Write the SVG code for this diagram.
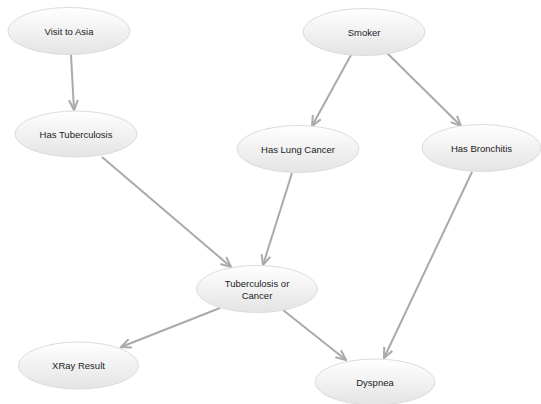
<svg xmlns="http://www.w3.org/2000/svg" width="541" height="404" viewBox="0 0 541 404">
<defs>
<linearGradient id="g" x1="0" y1="0" x2="0" y2="1">
<stop offset="0" stop-color="#ffffff"/>
<stop offset="1" stop-color="#e4e4e4"/>
</linearGradient>
<marker id="arr" viewBox="0 0 12 12" refX="11" refY="6" markerWidth="12" markerHeight="12" markerUnits="userSpaceOnUse" orient="auto">
<path d="M1,1.5 L11,6 L1,10.5" fill="none" stroke="#aaaaaa" stroke-width="2"/>
</marker>
</defs>
<style>
ellipse{fill:url(#g);stroke:#dcdcdc;stroke-width:1}
text{font-family:"Liberation Sans",Arial,sans-serif;font-size:9.5px;fill:#222;text-anchor:middle}
.e{stroke:#aaaaaa;stroke-width:2;fill:none;marker-end:url(#arr)}
</style>
<rect width="541" height="404" fill="#ffffff"/>
<g id="edges">
<line class="e" x1="71" y1="55" x2="74" y2="110"/>
<line class="e" x1="102" y1="157" x2="231" y2="267"/>
<line class="e" x1="292" y1="173" x2="263" y2="265"/>
<line class="e" x1="351" y1="55" x2="312" y2="126"/>
<line class="e" x1="387" y1="53" x2="461" y2="126"/>
<line class="e" x1="472" y1="172" x2="384" y2="358"/>
<line class="e" x1="220" y1="308" x2="121" y2="347"/>
<line class="e" x1="283" y1="310" x2="346" y2="360"/>
</g>
<g id="visit"><ellipse cx="69" cy="31" rx="61" ry="23.5"/><text x="69" y="35">Visit to Asia</text></g>
<g id="tuberculosis"><ellipse cx="76" cy="134" rx="61" ry="23"/><text x="76" y="138">Has Tuberculosis</text></g>
<g id="smoker"><ellipse cx="364" cy="32" rx="61" ry="23.5"/><text x="364" y="36">Smoker</text></g>
<g id="lung"><ellipse cx="298" cy="149" rx="61" ry="23.5"/><text x="298" y="153">Has Lung Cancer</text></g>
<g id="bronchitis"><ellipse cx="481.5" cy="148" rx="59.5" ry="23.5"/><text x="481.5" y="152">Has Bronchitis</text></g>
<g id="tborca"><ellipse cx="257" cy="289" rx="60.5" ry="23.5"/><text x="257" y="287">Tuberculosis or</text><text x="257" y="299">Cancer</text></g>
<g id="xray"><ellipse cx="78.5" cy="365.5" rx="60" ry="23.5"/><text x="78.5" y="369">XRay Result</text></g>
<g id="dyspnea"><ellipse cx="375" cy="382" rx="60" ry="23"/><text x="375" y="386">Dyspnea</text></g>
</svg>
